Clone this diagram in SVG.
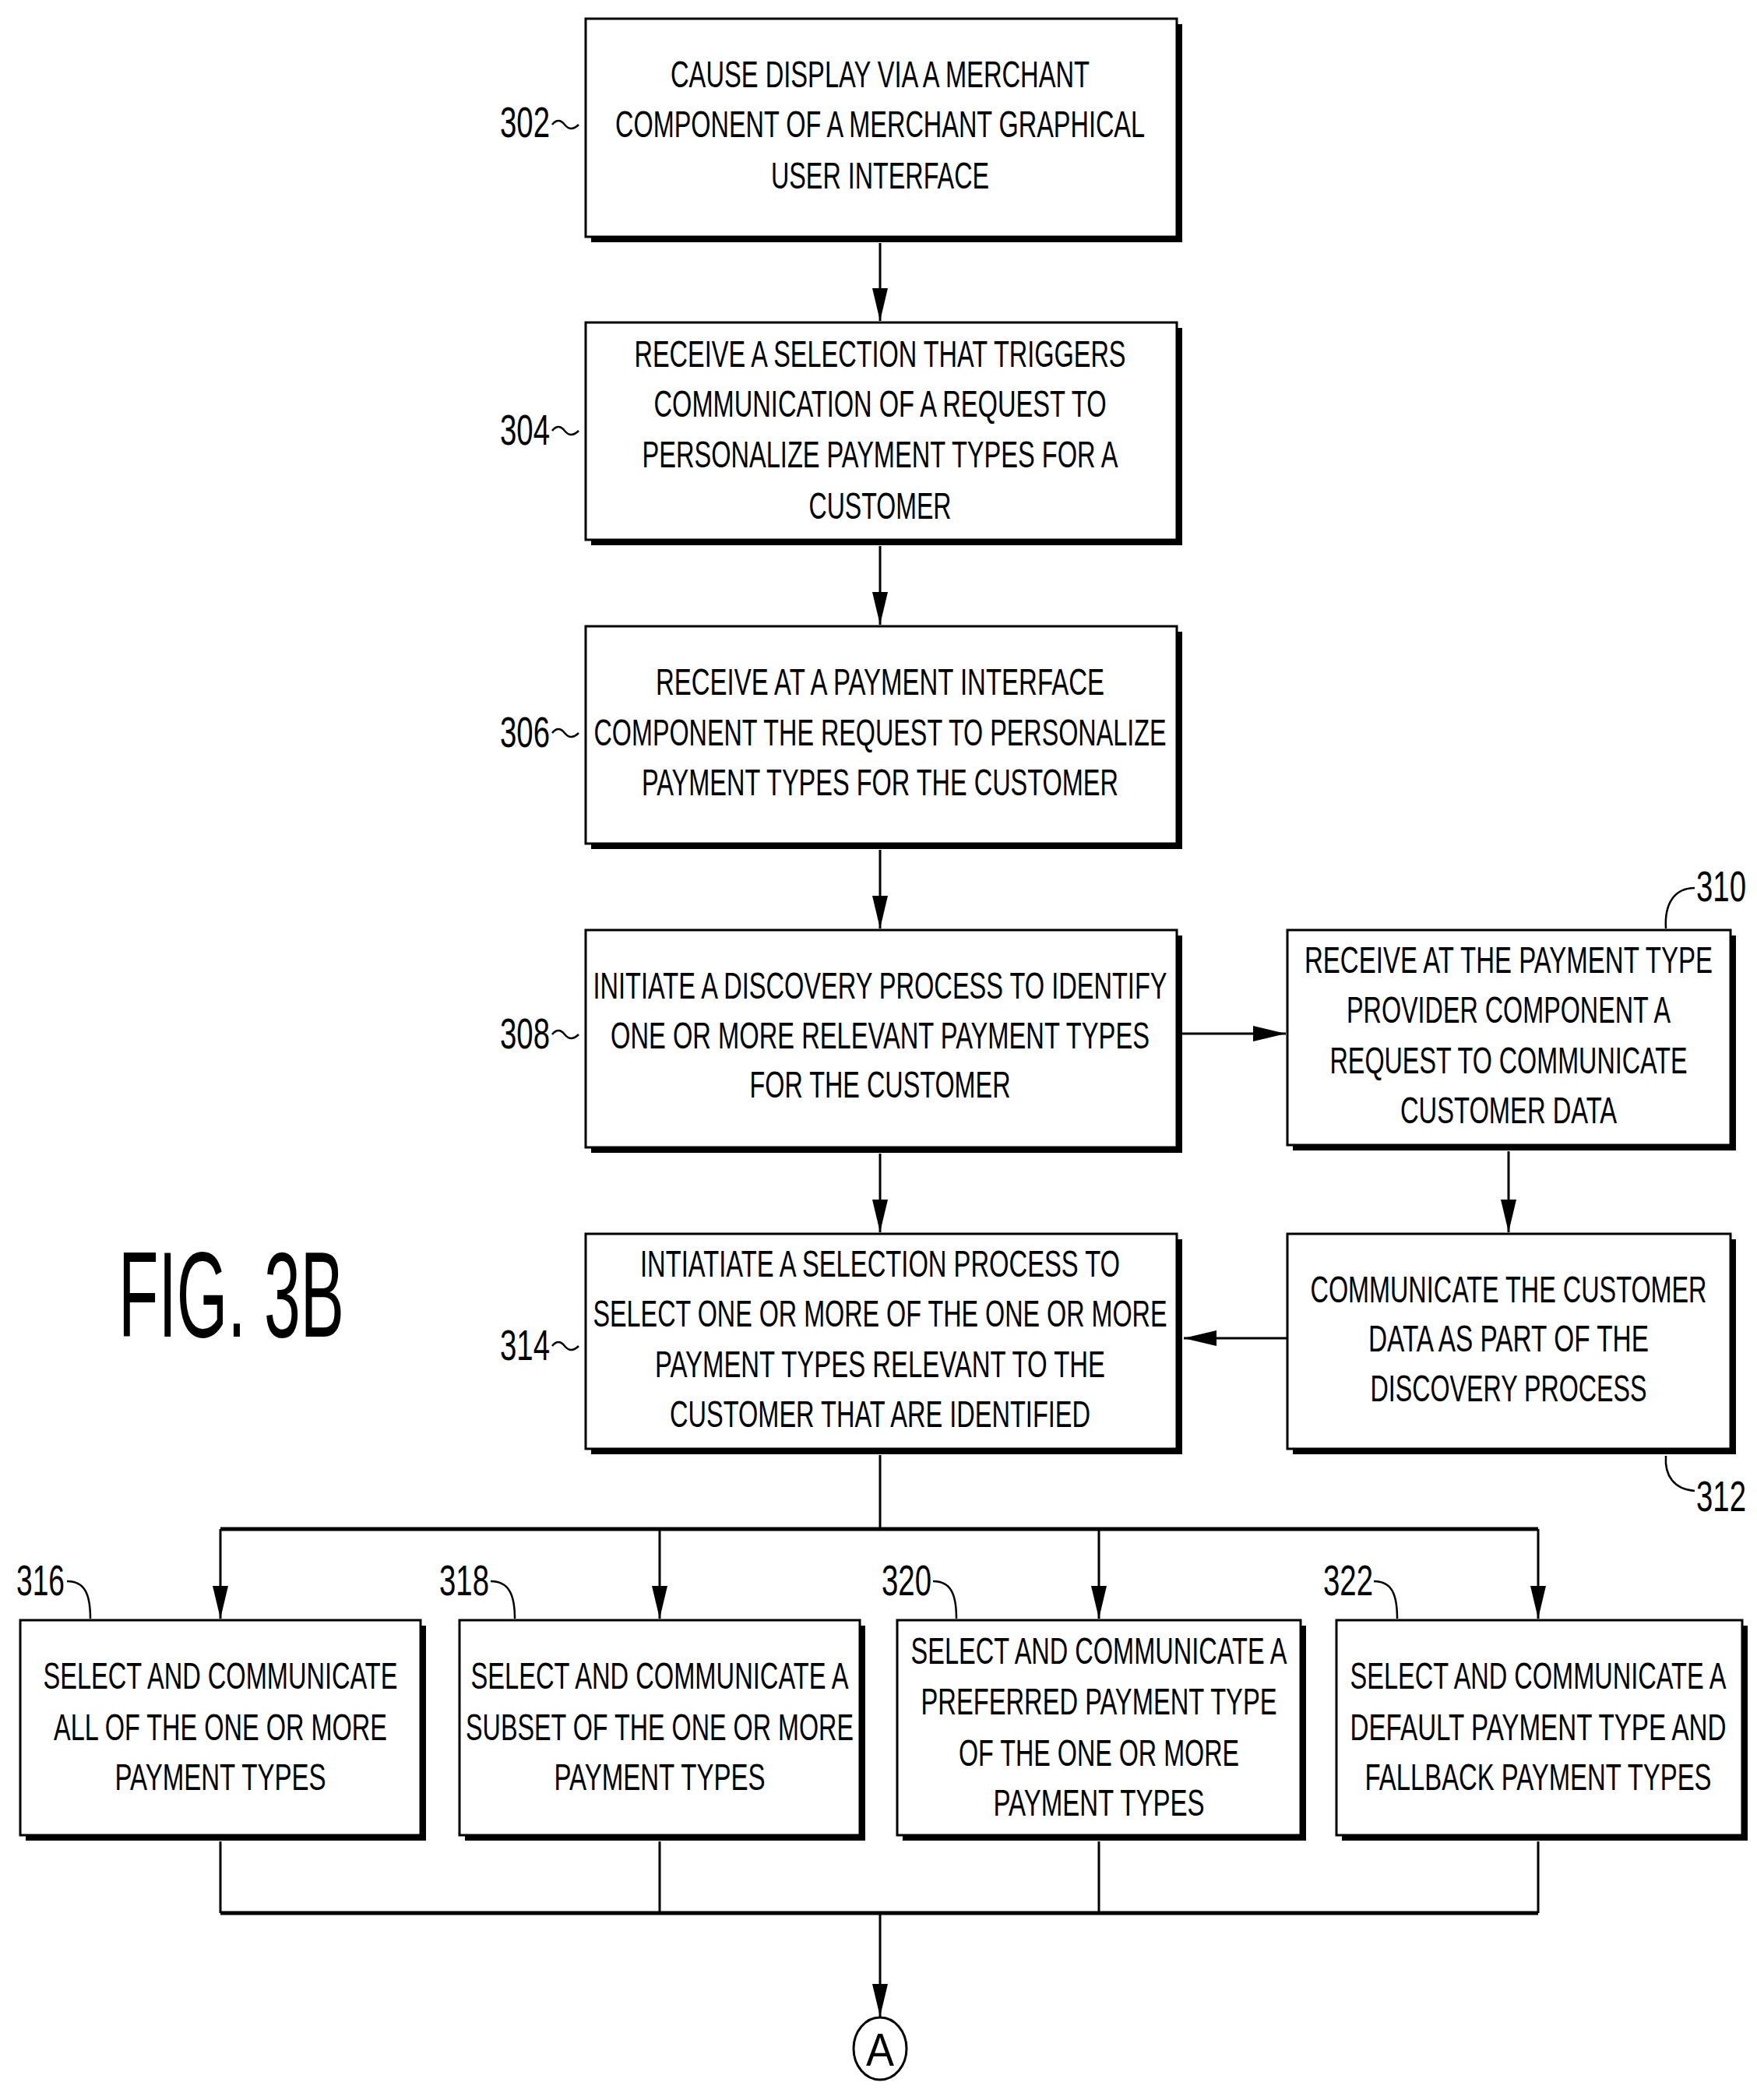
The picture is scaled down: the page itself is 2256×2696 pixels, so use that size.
<svg xmlns="http://www.w3.org/2000/svg" width="2256" height="2696" viewBox="0 0 2256 2696">
<style>
.b{fill:#fff;stroke:#000;stroke-width:3}
.s{fill:#000}
.t{font-family:"Liberation Sans Narrow","Liberation Sans",sans-serif;font-size:48px;text-anchor:middle;fill:#000}
.l{font-family:"Liberation Sans Narrow","Liberation Sans",sans-serif;font-size:56px;fill:#000}
.c{fill:none;stroke:#000;stroke-width:3}
.w{fill:none;stroke:#000;stroke-width:2.5}
</style>
<defs>
<marker id="a" markerUnits="userSpaceOnUse" markerWidth="44" markerHeight="22" refX="42" refY="11" orient="auto"><path d="M0,1 L42,11 L0,21 Z" fill="#000"/></marker>
</defs>
<rect width="2256" height="2696" fill="#fff"/>
<g id="connectors">
<path class="c" d="M1130,312 V412" marker-end="url(#a)"/>
<path class="c" d="M1130,701 V802" marker-end="url(#a)"/>
<path class="c" d="M1130,1091 V1192" marker-end="url(#a)"/>
<path class="c" d="M1130,1481 V1582" marker-end="url(#a)"/>
<path class="c" d="M1518,1327 H1651" marker-end="url(#a)"/>
<path class="c" d="M1937,1478 V1582" marker-end="url(#a)"/>
<path class="c" d="M1653,1718 H1520" marker-end="url(#a)"/>
<path class="c" d="M1130,1868 V1963"/>
<path d="M283,1963 H1975" stroke="#000" stroke-width="5"/>
<path class="c" d="M283,1963 V2078" marker-end="url(#a)"/>
<path class="c" d="M847,1963 V2078" marker-end="url(#a)"/>
<path class="c" d="M1411,1963 V2078" marker-end="url(#a)"/>
<path class="c" d="M1975,1963 V2078" marker-end="url(#a)"/>
<path class="c" d="M283,2364 V2456 M847,2364 V2456 M1411,2364 V2456 M1975,2364 V2456"/>
<path d="M283,2456 H1975" stroke="#000" stroke-width="5"/>
<path class="c" d="M1130,2456 V2589" marker-end="url(#a)"/>
</g>
<g id="n302"><rect class="s" x="759" y="31" width="759" height="280"/><rect class="b" x="752" y="24" width="759" height="280"/>
<text class="t" x="1130" y="112" textLength="538" lengthAdjust="spacingAndGlyphs">CAUSE DISPLAY VIA A MERCHANT</text>
<text class="t" x="1130" y="176" textLength="680" lengthAdjust="spacingAndGlyphs">COMPONENT OF A MERCHANT GRAPHICAL</text>
<text class="t" x="1130" y="242" textLength="280" lengthAdjust="spacingAndGlyphs">USER INTERFACE</text>
<text class="l" x="642" y="176" textLength="64" lengthAdjust="spacingAndGlyphs">302</text><path class="w" d="M709,160 q8,-10 16,0 t18,0"/></g>
<g id="n304"><rect class="s" x="759" y="421" width="759" height="279"/><rect class="b" x="752" y="414" width="759" height="279"/>
<text class="t" x="1130" y="471" textLength="631" lengthAdjust="spacingAndGlyphs">RECEIVE A SELECTION THAT TRIGGERS</text>
<text class="t" x="1130" y="535" textLength="581" lengthAdjust="spacingAndGlyphs">COMMUNICATION OF A REQUEST TO</text>
<text class="t" x="1130" y="600" textLength="611" lengthAdjust="spacingAndGlyphs">PERSONALIZE PAYMENT TYPES FOR A</text>
<text class="t" x="1130" y="666" textLength="183" lengthAdjust="spacingAndGlyphs">CUSTOMER</text>
<text class="l" x="642" y="571" textLength="64" lengthAdjust="spacingAndGlyphs">304</text><path class="w" d="M709,553 q8,-10 16,0 t18,0"/></g>
<g id="n306"><rect class="s" x="759" y="811" width="759" height="279"/><rect class="b" x="752" y="804" width="759" height="279"/>
<text class="t" x="1130" y="892" textLength="576" lengthAdjust="spacingAndGlyphs">RECEIVE AT A PAYMENT INTERFACE</text>
<text class="t" x="1130" y="957" textLength="735" lengthAdjust="spacingAndGlyphs">COMPONENT THE REQUEST TO PERSONALIZE</text>
<text class="t" x="1130" y="1021" textLength="612" lengthAdjust="spacingAndGlyphs">PAYMENT TYPES FOR THE CUSTOMER</text>
<text class="l" x="642" y="959" textLength="64" lengthAdjust="spacingAndGlyphs">306</text><path class="w" d="M709,941 q8,-10 16,0 t18,0"/></g>
<g id="n308"><rect class="s" x="759" y="1201" width="759" height="279"/><rect class="b" x="752" y="1194" width="759" height="279"/>
<text class="t" x="1130" y="1282" textLength="737" lengthAdjust="spacingAndGlyphs">INITIATE A DISCOVERY PROCESS TO IDENTIFY</text>
<text class="t" x="1130" y="1346" textLength="692" lengthAdjust="spacingAndGlyphs">ONE OR MORE RELEVANT PAYMENT TYPES</text>
<text class="t" x="1130" y="1409" textLength="335" lengthAdjust="spacingAndGlyphs">FOR THE CUSTOMER</text>
<text class="l" x="642" y="1346" textLength="64" lengthAdjust="spacingAndGlyphs">308</text><path class="w" d="M709,1328 q8,-10 16,0 t18,0"/></g>
<g id="n310"><rect class="s" x="1660" y="1201" width="569" height="276"/><rect class="b" x="1653" y="1194" width="569" height="276"/>
<text class="t" x="1937" y="1249" textLength="524" lengthAdjust="spacingAndGlyphs">RECEIVE AT THE PAYMENT TYPE</text>
<text class="t" x="1937" y="1313" textLength="416" lengthAdjust="spacingAndGlyphs">PROVIDER COMPONENT A</text>
<text class="t" x="1937" y="1378" textLength="459" lengthAdjust="spacingAndGlyphs">REQUEST TO COMMUNICATE</text>
<text class="t" x="1937" y="1442" textLength="278" lengthAdjust="spacingAndGlyphs">CUSTOMER DATA</text>
<text class="l" x="2178" y="1157" textLength="64" lengthAdjust="spacingAndGlyphs">310</text><path class="w" d="M2139,1192 C2137,1160 2150,1140 2176,1140"/></g>
<g id="n312"><rect class="s" x="1660" y="1591" width="569" height="276"/><rect class="b" x="1653" y="1584" width="569" height="276"/>
<text class="t" x="1937" y="1672" textLength="509" lengthAdjust="spacingAndGlyphs">COMMUNICATE THE CUSTOMER</text>
<text class="t" x="1937" y="1735" textLength="360" lengthAdjust="spacingAndGlyphs">DATA AS PART OF THE</text>
<text class="t" x="1937" y="1799" textLength="355" lengthAdjust="spacingAndGlyphs">DISCOVERY PROCESS</text>
<text class="l" x="2178" y="1940" textLength="64" lengthAdjust="spacingAndGlyphs">312</text><path class="w" d="M2139,1869 C2137,1895 2150,1912 2176,1914"/></g>
<g id="n314"><rect class="s" x="759" y="1591" width="759" height="276"/><rect class="b" x="752" y="1584" width="759" height="276"/>
<text class="t" x="1130" y="1639" textLength="616" lengthAdjust="spacingAndGlyphs">INTIATIATE A SELECTION PROCESS TO</text>
<text class="t" x="1130" y="1703" textLength="737" lengthAdjust="spacingAndGlyphs">SELECT ONE OR MORE OF THE ONE OR MORE</text>
<text class="t" x="1130" y="1768" textLength="578" lengthAdjust="spacingAndGlyphs">PAYMENT TYPES RELEVANT TO THE</text>
<text class="t" x="1130" y="1832" textLength="540" lengthAdjust="spacingAndGlyphs">CUSTOMER THAT ARE IDENTIFIED</text>
<text class="l" x="642" y="1746" textLength="64" lengthAdjust="spacingAndGlyphs">314</text><path class="w" d="M709,1728 q8,-10 16,0 t18,0"/></g>
<g id="n316"><rect class="s" x="33" y="2087" width="514" height="276"/><rect class="b" x="26" y="2080" width="514" height="276"/>
<text class="t" x="283" y="2168" textLength="455" lengthAdjust="spacingAndGlyphs">SELECT AND COMMUNICATE</text>
<text class="t" x="283" y="2234" textLength="428" lengthAdjust="spacingAndGlyphs">ALL OF THE ONE OR MORE</text>
<text class="t" x="283" y="2298" textLength="271" lengthAdjust="spacingAndGlyphs">PAYMENT TYPES</text>
<text class="l" x="21" y="2048" textLength="62" lengthAdjust="spacingAndGlyphs">316</text><path class="w" d="M86,2030 C108,2030 116,2045 116,2078"/></g>
<g id="n318"><rect class="s" x="597" y="2087" width="514" height="276"/><rect class="b" x="590" y="2080" width="514" height="276"/>
<text class="t" x="847" y="2168" textLength="485" lengthAdjust="spacingAndGlyphs">SELECT AND COMMUNICATE A</text>
<text class="t" x="847" y="2234" textLength="498" lengthAdjust="spacingAndGlyphs">SUBSET OF THE ONE OR MORE</text>
<text class="t" x="847" y="2298" textLength="271" lengthAdjust="spacingAndGlyphs">PAYMENT TYPES</text>
<text class="l" x="564" y="2048" textLength="64" lengthAdjust="spacingAndGlyphs">318</text><path class="w" d="M630,2030 C652,2030 661,2045 661,2078"/></g>
<g id="n320"><rect class="s" x="1159" y="2087" width="518" height="276"/><rect class="b" x="1152" y="2080" width="518" height="276"/>
<text class="t" x="1411" y="2136" textLength="483" lengthAdjust="spacingAndGlyphs">SELECT AND COMMUNICATE A</text>
<text class="t" x="1411" y="2201" textLength="457" lengthAdjust="spacingAndGlyphs">PREFERRED PAYMENT TYPE</text>
<text class="t" x="1411" y="2267" textLength="360" lengthAdjust="spacingAndGlyphs">OF THE ONE OR MORE</text>
<text class="t" x="1411" y="2331" textLength="271" lengthAdjust="spacingAndGlyphs">PAYMENT TYPES</text>
<text class="l" x="1132" y="2048" textLength="64" lengthAdjust="spacingAndGlyphs">320</text><path class="w" d="M1198,2030 C1220,2030 1228,2045 1228,2078"/></g>
<g id="n322"><rect class="s" x="1723" y="2087" width="521" height="276"/><rect class="b" x="1716" y="2080" width="521" height="276"/>
<text class="t" x="1975" y="2168" textLength="483" lengthAdjust="spacingAndGlyphs">SELECT AND COMMUNICATE A</text>
<text class="t" x="1975" y="2234" textLength="483" lengthAdjust="spacingAndGlyphs">DEFAULT PAYMENT TYPE AND</text>
<text class="t" x="1975" y="2298" textLength="445" lengthAdjust="spacingAndGlyphs">FALLBACK PAYMENT TYPES</text>
<text class="l" x="1699" y="2048" textLength="64" lengthAdjust="spacingAndGlyphs">322</text><path class="w" d="M1764,2030 C1786,2030 1794,2045 1794,2078"/></g>
<g id="connectorA"><ellipse cx="1130" cy="2630" rx="34" ry="40" fill="#fff" stroke="#000" stroke-width="3"/>
<text x="1130" y="2652" text-anchor="middle" font-family="Liberation Sans Narrow,Liberation Sans,sans-serif" font-size="60" textLength="36" lengthAdjust="spacingAndGlyphs">A</text></g>
<text x="152" y="1716" font-family="Liberation Sans Narrow,Liberation Sans,sans-serif" font-size="156" textLength="290" lengthAdjust="spacingAndGlyphs">FIG. 3B</text>
</svg>
